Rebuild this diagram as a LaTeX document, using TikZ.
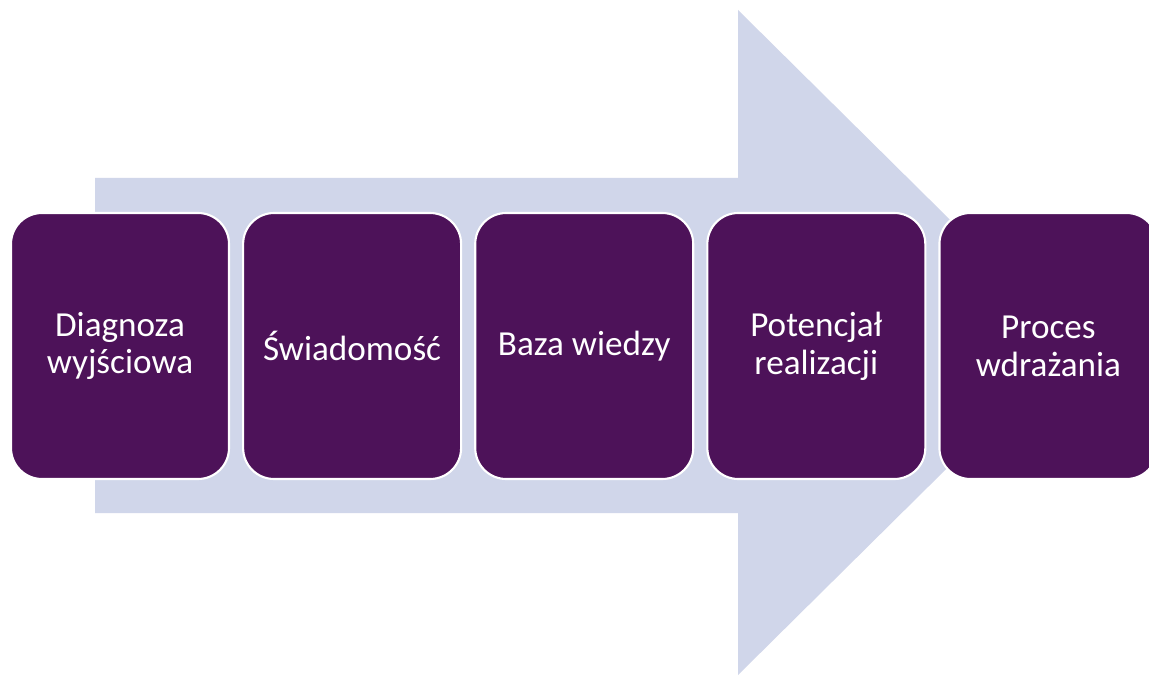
\documentclass[tikz,border=0pt]{standalone}
\usepackage{fontspec}
\setmainfont{Carlito}
\usepackage{xcolor}
\usetikzlibrary{positioning}

\definecolor{stepviolet}{RGB}{77,18,89}
\definecolor{arrowblue}{RGB}{208,214,234}

\tikzset{
  stage/.style={rectangle, rounded corners=0.62cm, fill=stepviolet, draw=white,
    line width=1.2pt, minimum width=4.36cm, minimum height=5.32cm,
    text=white, align=center, font=\fontsize{20}{21.5}\selectfont}
}

\begin{document}
\begin{tikzpicture}
      \clip (0,0) rectangle (22.98,13.5);
      \fill[white] (0,0) rectangle (22.98,13.5);

      % big arrow behind the stages
      \fill[arrowblue] (1.9,3.24) -- (1.9,9.94) -- (14.76,9.94) -- (14.76,13.3)
        -- (21.48,6.65) -- (14.76,0) -- (14.76,3.24) -- cycle;

      \node[stage] (diag) at (2.4,6.58) {Diagnoza\\wyjściowa};
      \node[stage, right=0.24cm of diag] (swiad) {Świadomość};
      \node[stage, right=0.24cm of swiad] (baza) {Baza wiedzy};
      \node[stage, right=0.24cm of baza] (poten) {Potencjał\\realizacji};
      \node[stage, right=0.24cm of poten] (proces) {Proces\\wdrażania};
    \end{tikzpicture}
\end{document}
